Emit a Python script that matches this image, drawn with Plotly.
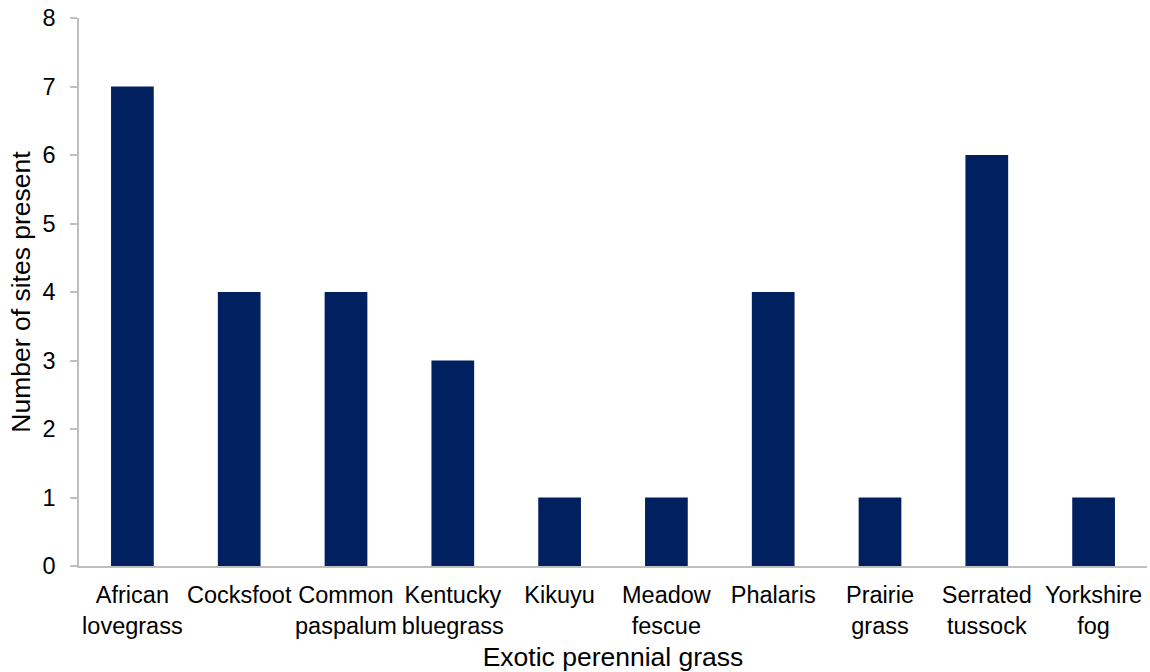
import plotly.graph_objects as go

categories = ["African lovegrass", "Cocksfoot", "Common paspalum", "Kentucky bluegrass",
              "Kikuyu", "Meadow fescue", "Phalaris", "Prairie grass", "Serrated tussock",
              "Yorkshire fog"]
tick_labels = ["African<br>lovegrass", "Cocksfoot", "Common<br>paspalum", "Kentucky<br>bluegrass",
               "Kikuyu", "Meadow<br>fescue", "Phalaris", "Prairie<br>grass", "Serrated<br>tussock",
               "Yorkshire<br>fog"]
sites = [7, 4, 4, 3, 1, 1, 4, 1, 6, 1]

FONT = "Liberation Sans, Arial, sans-serif"

fig = go.Figure(go.Bar(x=categories, y=sites, marker=dict(color="#002060", line=dict(width=0))))

fig.update_layout(
    width=1150, height=672,
    margin=dict(l=79, r=3, t=18, b=106),
    paper_bgcolor="white", plot_bgcolor="white",
    bargap=0.6,
    showlegend=False,
    font=dict(family=FONT, size=23.5, color="black"),
)
fig.update_xaxes(
    tickmode="array", tickvals=categories, ticktext=tick_labels,
    showline=True, linecolor="#bfbfbf", linewidth=1.5,
    ticks="", showgrid=False,
    ticklabelstandoff=7,
    tickfont=dict(family=FONT, size=23.5, color="black"),
    title=dict(text="Exotic perennial grass", font=dict(family=FONT, size=26.5, color="black"), standoff=10),
)
fig.update_yaxes(
    range=[0, 8], dtick=1, tick0=0,
    showline=True, linecolor="#bfbfbf", linewidth=1.5,
    ticks="outside", ticklen=7, tickcolor="#bfbfbf", tickwidth=1.5,
    showgrid=False, zeroline=False,
    ticklabelstandoff=10,
    tickfont=dict(family=FONT, size=23.5, color="black"),
    title=dict(text="Number of sites present", font=dict(family=FONT, size=26.5, color="black"), standoff=4),
)

fig.write_html("out.html")
